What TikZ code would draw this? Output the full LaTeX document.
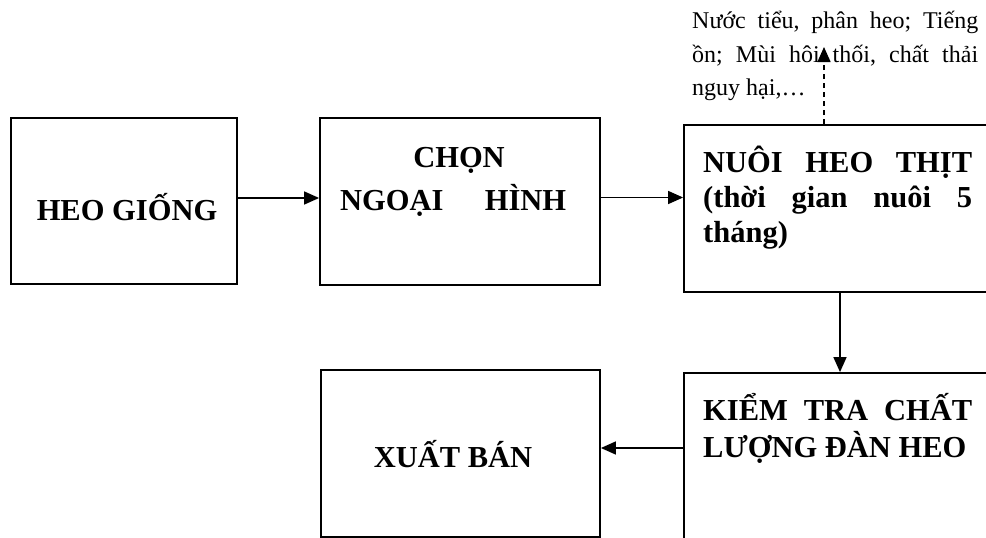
\documentclass[tikz,border=0pt]{standalone}
\usepackage{fontspec}
\setmainfont{Liberation Serif}
\usetikzlibrary{arrows.meta}
\begin{document}
\begin{tikzpicture}[x=1pt,y=-1pt,
  box/.style={draw, line width=1.8pt, inner sep=0pt},
  conn/.style={line width=1.5pt, -{Triangle[length=15pt,width=13pt]}},
  lbl/.style={inner sep=0pt, font=\fontsize{30.5}{35}\selectfont\bfseries},
  note/.style={inner sep=0pt, font=\fontsize{24}{33}\selectfont}]
\useasboundingbox (0,0) rectangle (986,538);
\clip (0,0) rectangle (986,538);
% boxes
\node[box, minimum width=226pt, minimum height=166pt] (b1) at (124,201) {};
\node[box, minimum width=280pt, minimum height=167pt] (b2) at (460,201.5) {};
\node[box, minimum width=326pt, minimum height=167pt] (b3) at (847,208.5) {};
\node[box, minimum width=326pt, minimum height=197pt] (b4) at (847,471.5) {};
\node[box, minimum width=279pt, minimum height=167pt] (b5) at (460.5,453.5) {};
% texts
\node[lbl, anchor=base] (t1) at (127,220) {HEO GIỐNG};
\node[lbl, anchor=base] (t2a) at (459,167) {CHỌN};
\node[lbl, anchor=base west] (t2b) at (340,210) {\hbox to 226pt{NGOẠI\hfill HÌNH}};
\node[lbl, anchor=base west] (t3a) at (703,172) {\hbox to 269pt{NUÔI\hfill HEO\hfill THỊT}};
\node[lbl, anchor=base west] (t3b) at (703,207) {\hbox to 269pt{(thời\hfill gian\hfill nuôi\hfill 5}};
\node[lbl, anchor=base west] (t3c) at (703,242) {tháng)};
\node[lbl, anchor=base west] (t4a) at (703,420) {\hbox to 269pt{KIỂM\hfill TRA\hfill CHẤT}};
\node[lbl, anchor=base west] (t4b) at (703,457) {LƯỢNG ĐÀN HEO};
\node[lbl, anchor=base] (t5) at (453,467) {XUẤT BÁN};
% note
\node[note, anchor=base west] (n1) at (692,28) {\hbox to 286pt{Nước\hfill tiểu,\hfill phân\hfill heo;\hfill Tiếng}};
\node[note, anchor=base west] (n2) at (692,62) {\hbox to 286pt{ồn;\hfill Mùi\hfill hôi\hfill thối,\hfill chất\hfill thải}};
\node[note, anchor=base west] (n3) at (692,95) {nguy hại,…};
\coordinate (dtip) at (824,47);
% connectors
\draw[conn] ([yshift=3pt]b1.east) -- ([yshift=3pt]b1.east -| b2.west);
\draw[conn] ([yshift=4pt]b2.east) -- ([yshift=4pt]b2.east -| b3.west);
\draw[conn] ([xshift=-7pt]b3.south) -- ([xshift=-7pt]b3.south |- b4.north);
\draw[conn] ([yshift=5.5pt]b5.east -| b4.west) -- ([yshift=5.5pt]b5.east);
\draw[conn, dash pattern=on 5pt off 4pt] ([xshift=-23pt]b3.north) -- (dtip);
\end{tikzpicture}
\end{document}
